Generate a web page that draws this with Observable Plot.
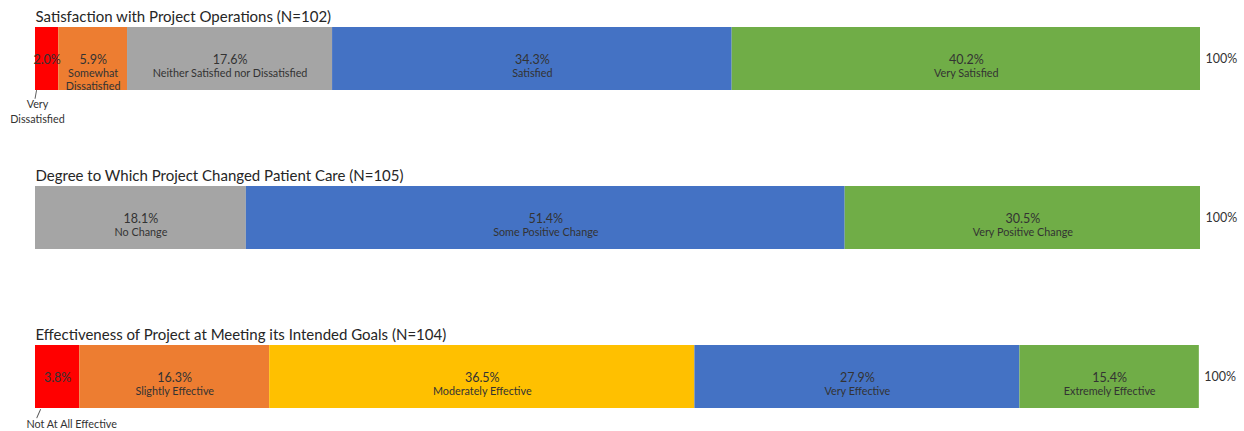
<!DOCTYPE html>
<html>
<head>
<meta charset="utf-8">
<script src="https://cdn.jsdelivr.net/npm/d3@7"></script>
<script src="https://cdn.jsdelivr.net/npm/@observablehq/plot@0.6"></script>
<style>
  html, body { margin: 0; padding: 0; background: #fff; }
  #chart svg { display: block; }
</style>
</head>
<body>
<div id="chart"></div>
<script>
// ---- data ----
const questions = [
  "Satisfaction with Project Operations (N=102)",
  "Degree to Which Project Changed Patient Care (N=105)",
  "Effectiveness of Project at Meeting its Intended Goals (N=104)"
];
const q1Labels = ["Very Dissatisfied", "Somewhat Dissatisfied", "Neither Satisfied nor Dissatisfied", "Satisfied", "Very Satisfied"];
const q1Values = [2.0, 5.9, 17.6, 34.3, 40.2];
const q2Labels = ["No Change", "Some Positive Change", "Very Positive Change"];
const q2Values = [18.1, 51.4, 30.5];
const q3Labels = ["Not At All Effective", "Slightly Effective", "Moderately Effective", "Very Effective", "Extremely Effective"];
const q3Values = [3.8, 16.3, 36.5, 27.9, 15.4];
const totalLabel = "100%";

// ---- styles ----
const colorOf = {
  "Very Dissatisfied": "#FF0000",
  "Somewhat Dissatisfied": "#ED7D31",
  "Neither Satisfied nor Dissatisfied": "#A5A5A5",
  "Satisfied": "#4472C4",
  "Very Satisfied": "#70AD47",
  "No Change": "#A5A5A5",
  "Some Positive Change": "#4472C4",
  "Very Positive Change": "#70AD47",
  "Not At All Effective": "#FF0000",
  "Slightly Effective": "#ED7D31",
  "Moderately Effective": "#FFC000",
  "Very Effective": "#4472C4",
  "Extremely Effective": "#70AD47"
};
const outside = new Set(["Very Dissatisfied", "Not At All Effective"]);
const wrapped = {"Somewhat Dissatisfied": "Somewhat\nDissatisfied"};

const rows = [];
[[q1Labels, q1Values], [q2Labels, q2Values], [q3Labels, q3Values]].forEach(([labs, vals], i) => {
  labs.forEach((l, j) => rows.push({q: questions[i], label: l, value: vals[j]}));
});
const totals = questions.map(q => ({q, total: d3.sum(rows.filter(r => r.q === q), r => r.value)}));

const FONT = "Lato, 'Open Sans', sans-serif";
const TXT = "#333333";
const leader = {draw(ctx, l) { ctx.moveTo(0, 0); ctx.lineTo(0, -l); }};

const chart = Plot.plot({
  width: 1244,
  height: 431,
  marginLeft: 35,
  marginRight: 44,
  marginTop: 0,
  marginBottom: 0,
  style: {fontFamily: FONT, background: "#fff"},
  x: {domain: [0, 100], axis: null},
  y: {domain: questions, range: [26, 408], paddingInner: 0.604, paddingOuter: 0, axis: null},
  color: {type: "identity"},
  marks: [
    Plot.barX(rows, {x: "value", y: "q", fill: d => colorOf[d.label]}),
    // value labels
    Plot.textX(rows, Plot.stackX({x: "value", y: "q", text: d => d.value.toFixed(1) + "%",
      fontSize: 12.5, fill: TXT, dy: 0.5, lineAnchor: "middle"})),
    // category names inside segments
    Plot.textX(rows, Plot.stackX({x: "value", y: "q",
      text: d => outside.has(d.label) ? "" : (wrapped[d.label] || d.label),
      fontSize: 10.8, fill: TXT, dy: 9, lineAnchor: "top", lineHeight: 1.2})),
    // outside names (first segments)
    Plot.textX(rows.filter(d => d.label === "Very Dissatisfied"), Plot.stackX1({x: "value", y: "q",
      text: d => d.label.replace(" ", "\n"), fontSize: 10.8, fill: TXT, dx: 2, dy: 51.5,
      lineAnchor: "middle", lineHeight: 1.45})),
    Plot.textX(rows.filter(d => d.label === "Not At All Effective"), Plot.stackX1({x: "value", y: "q",
      text: "label", fontSize: 10.8, fill: TXT, dx: -9, dy: 48, textAnchor: "start", lineAnchor: "middle"})),
    Plot.vector(rows.filter(d => d.label === "Very Dissatisfied"), Plot.stackX1({x: "value", y: "q",
      length: 8, rotate: 190, anchor: "start", stroke: "#555", strokeWidth: 0.9, dy: 31.5, dx: 1,
      shape: leader})),
    Plot.vector(rows.filter(d => d.label === "Not At All Effective"), Plot.stackX1({x: "value", y: "q",
      length: 9, rotate: 204, anchor: "start", stroke: "#555", strokeWidth: 0.9, dy: 32.5, dx: 5,
      shape: leader})),
    // totals
    Plot.text(totals, {x: "total", y: "q", text: () => totalLabel, textAnchor: "start", dx: 5,
      fontSize: 12.5, fill: TXT}),
    // titles
    Plot.text(questions, {y: d => d, text: d => d, frameAnchor: "left", textAnchor: "start",
      dy: -42, fontSize: 15, fill: "#262626"})
  ]
});
document.getElementById("chart").appendChild(chart);
</script>
</body>
</html>
